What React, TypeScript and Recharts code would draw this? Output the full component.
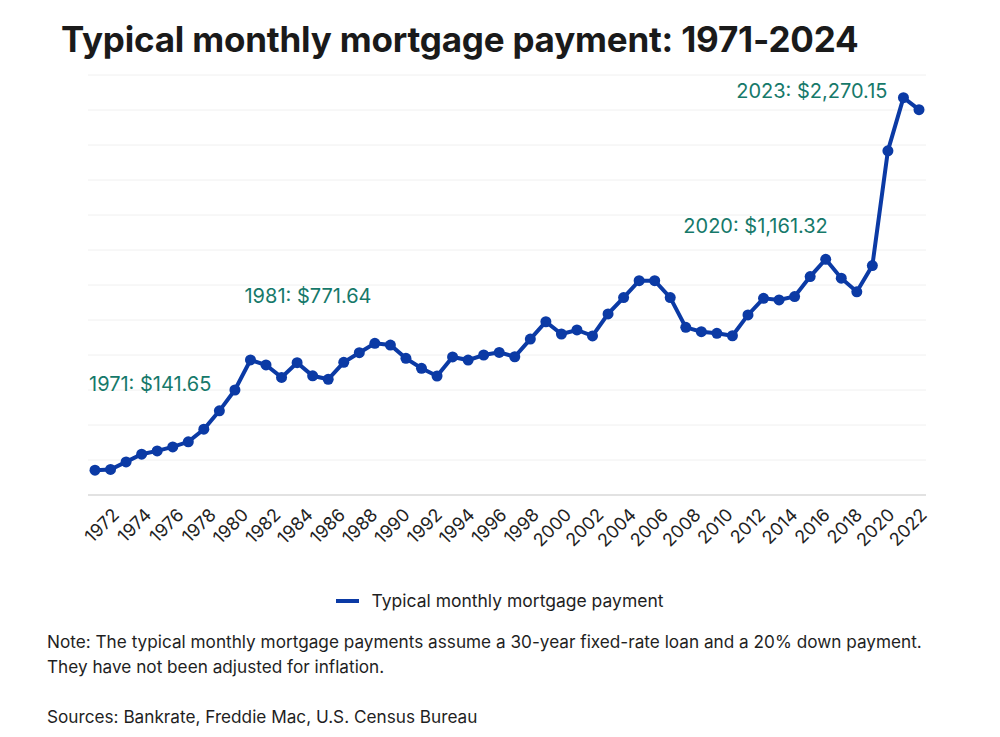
import React from 'react';
import { LineChart, Line, XAxis, YAxis, CartesianGrid, LabelList } from 'recharts';

// data years (1971-2024) and the typical monthly payment in dollars
const YEARS = [
  1971, 1972, 1973, 1974, 1975, 1976, 1977, 1978, 1979, 1980,
  1981, 1982, 1983, 1984, 1985, 1986, 1987, 1988, 1989, 1990,
  1991, 1992, 1993, 1994, 1995, 1996, 1997, 1998, 1999, 2000,
  2001, 2002, 2003, 2004, 2005, 2006, 2007, 2008, 2009, 2010,
  2011, 2012, 2013, 2014, 2015, 2016, 2017, 2018, 2019, 2020,
  2021, 2022, 2023, 2024,
];

const PAYMENTS = [
  141.65, 146, 189, 233, 252, 275, 304, 376, 481, 600,
  771.64, 743, 672, 756, 681, 661, 758, 813, 867, 857,
  781, 724, 680, 789, 771, 800, 815, 790, 891, 990,
  920, 943, 909, 1035, 1128, 1225, 1225, 1128, 958, 933,
  924, 910, 1029, 1124, 1115, 1134, 1248, 1347, 1239, 1161.32,
  1311, 1967, 2270.15, 2202,
];

// the axis in the original is labelled 1972..2022 across the full width
const LABEL_YEARS = [
  1972, 1974, 1976, 1978, 1980, 1982, 1984, 1986, 1988, 1990,
  1992, 1994, 1996, 1998, 2000, 2002, 2004, 2006, 2008, 2010,
  2012, 2014, 2016, 2018, 2020, 2022,
];
const LABEL_DOMAIN = [1971, 2022];

const Y_TICKS = [0, 200, 400, 600, 800, 1000, 1200, 1400, 1600, 1800, 2000, 2200, 2400];

const ANNOTATED_YEARS = [1971, 1981, 2020, 2023];

const SERIES_NAME = 'Typical monthly mortgage payment';

const BLUE = '#0b3aa5';
const TEAL = '#16796a';
const INK = '#1f1f1f';
const FONT = 'Inter, "Noto Sans", sans-serif';

// where each annotation sits relative to its point
const annotationStyle: Record<number, { dx: number; dy: number; anchor: 'start' | 'end' }> = {
  1971: { dx: -6, dy: -79, anchor: 'start' },
  1981: { dx: -6, dy: -57, anchor: 'start' },
  2020: { dx: -29, dy: -59, anchor: 'end' },
  2023: { dx: -16, dy: 0, anchor: 'end' },
};

const data = YEARS.map((year, i) => ({ year, payment: PAYMENTS[i] }));

const formatDollars = (v: number) =>
  '$' + v.toLocaleString('en-US', { minimumFractionDigits: 2, maximumFractionDigits: 2 });

const YearTick = ({ x, y, payload }: any) => (
  <g transform={`translate(${x + 9},${y + 13})`}>
    <text textAnchor="end" transform="rotate(-45)" fontSize={18} fill={INK} fontFamily={FONT}>
      {payload.value}
    </text>
  </g>
);

const Annotation = (props: any) => {
  const { x, y, index } = props;
  const year = YEARS[index];
  if (!ANNOTATED_YEARS.includes(year)) return null;
  const s = annotationStyle[year];
  return (
    <text
      x={x + s.dx}
      y={y + s.dy}
      textAnchor={s.anchor}
      fontSize={20}
      fill={TEAL}
      fontFamily={FONT}
    >
      {`${year}: ${formatDollars(PAYMENTS[index])}`}
    </text>
  );
};

export default function App() {
  return (
    <div
      style={{
        position: 'absolute',
        left: 0,
        top: 0,
        width: 1000,
        height: 737,
        background: '#fff',
        fontFamily: FONT,
        color: INK,
      }}
    >
      <div
        style={{
          position: 'absolute',
          left: 61,
          top: 22,
          fontSize: 35,
          lineHeight: 1,
          fontWeight: 700,
          letterSpacing: -0.2,
          color: '#1a1a1a',
        }}
      >
        Typical monthly mortgage payment: 1971-2024
      </div>

      <div style={{ position: 'absolute', left: 0, top: 0 }}>
        <LineChart
          width={1000}
          height={560}
          data={data}
          margin={{ top: 75, right: 74, bottom: 0, left: 88 }}
        >
          <CartesianGrid vertical={false} stroke="#f0f0f0" strokeWidth={1} />
          <YAxis hide domain={[0, 2400]} ticks={Y_TICKS} />
          <XAxis
            dataKey="year"
            type="number"
            domain={[1971, 2024]}
            padding={{ left: 7, right: 7 }}
            height={0}
            hide
          />
          <XAxis
            xAxisId="labels"
            dataKey="year"
            type="number"
            domain={LABEL_DOMAIN}
            allowDataOverflow
            ticks={LABEL_YEARS}
            interval={0}
            padding={{ left: 7, right: 7 }}
            height={65}
            axisLine={{ stroke: '#e2e2e2', strokeWidth: 2 }}
            tickLine={false}
            tick={<YearTick />}
          />
          {/* invisible series that carries the label axis */}
          <Line
            xAxisId="labels"
            dataKey="payment"
            stroke="none"
            dot={false}
            activeDot={false}
            legendType="none"
            isAnimationActive={false}
          />
          <Line
            type="linear"
            dataKey="payment"
            name={SERIES_NAME}
            stroke={BLUE}
            strokeWidth={4}
            dot={{ r: 5.5, fill: BLUE, stroke: 'none' }}
            isAnimationActive={false}
          >
            <LabelList dataKey="payment" content={<Annotation />} />
          </Line>
        </LineChart>
      </div>

      <div
        style={{
          position: 'absolute',
          top: 591,
          left: 0,
          width: 1000,
          display: 'flex',
          justifyContent: 'center',
          alignItems: 'center',
          fontSize: 17.5,
          lineHeight: '20px',
        }}
      >
        <span style={{ display: 'inline-block', width: 23, height: 4, background: BLUE, marginRight: 12 }} />
        <span>{SERIES_NAME}</span>
      </div>

      <div style={{ position: 'absolute', left: 47, top: 629, fontSize: 17.2, lineHeight: '25px' }}>
        Note: The typical monthly mortgage payments assume a 30-year fixed-rate loan and a 20% down payment.
        <br />
        They have not been adjusted for inflation.
      </div>
      <div style={{ position: 'absolute', left: 47, top: 704, fontSize: 17.2, lineHeight: '25px' }}>
        Sources: Bankrate, Freddie Mac, U.S. Census Bureau
      </div>
    </div>
  );
}
